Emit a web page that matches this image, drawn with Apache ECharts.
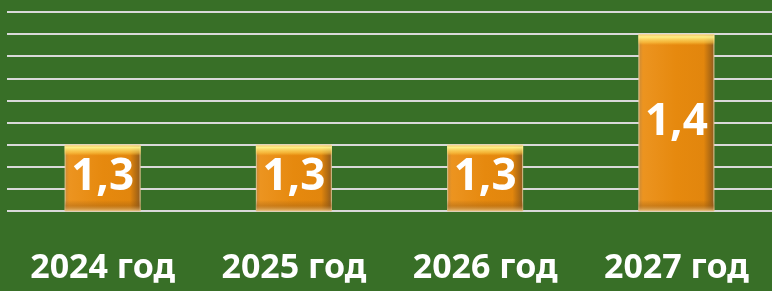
<!DOCTYPE html>
<html>
<head>
<meta charset="utf-8">
<script src="https://cdn.jsdelivr.net/npm/echarts@6/dist/echarts.min.js"></script>
<style>
  html, body { margin: 0; padding: 0; background: #386F27; }
  #main { width: 772px; height: 291px; }
</style>
</head>
<body>
<div id="main"></div>
<script>
// данные
var years = ['2024 год', '2025 год', '2026 год', '2027 год'];
var values = [1.3, 1.3, 1.3, 1.4];

var yMin = 1.24, yMax = 1.42;

var myChart = echarts.init(document.getElementById('main'));

// боковая заливка (слева светлее, справа тёмная грань)
var sideFill = new echarts.graphic.LinearGradient(0, 0, 1, 0, [
  { offset: 0, color: '#C98A3A' },
  { offset: 0.06, color: '#EC9420' },
  { offset: 0.5, color: '#E6890E' },
  { offset: 0.86, color: '#E2860D' },
  { offset: 0.94, color: '#B36C12' },
  { offset: 1, color: '#8C5A22' }
]);

// верхний блик и нижняя грань, высота фаски ~ 11px при любой высоте столбика
function bevel(hPx) {
  var t = 11 / hPx;
  return new echarts.graphic.LinearGradient(0, 0, 0, 1, [
    { offset: 0, color: 'rgba(255,225,150,0.55)' },
    { offset: t * 0.25, color: 'rgba(255,245,140,0.95)' },
    { offset: t * 0.75, color: 'rgba(255,210,80,0.55)' },
    { offset: t, color: 'rgba(255,200,60,0)' },
    { offset: 1 - t, color: 'rgba(140,80,10,0)' },
    { offset: 1 - t * 0.5, color: 'rgba(150,90,20,0.35)' },
    { offset: 1, color: 'rgba(235,200,140,0.8)' }
  ]);
}

var option = {
  backgroundColor: '#386F27',
  animation: false,
  grid: { left: 7, right: 0, top: 12, bottom: 80 },
  xAxis: {
    type: 'category',
    data: years,
    axisLine: { show: false },
    axisTick: { show: false },
    axisLabel: {
      color: '#ffffff',
      fontFamily: 'Noto Sans',
      fontWeight: 'bold',
      fontSize: 34,
      margin: 40
    }
  },
  yAxis: {
    type: 'value',
    min: yMin,
    max: yMax,
    interval: 0.02,
    axisLabel: { show: false },
    axisLine: { show: false },
    axisTick: { show: false },
    splitLine: { lineStyle: { color: '#D9D9D9', width: 2 } }
  },
  series: [
    {
      type: 'bar',
      data: values,
      barWidth: 76,
      itemStyle: { color: sideFill, borderColor: 'rgba(230,200,150,0.6)', borderWidth: 1 },
      z: 2
    },
    {
      type: 'bar',
      data: values,
      barWidth: 76,
      barGap: '-100%',
      itemStyle: { color: 'rgba(0,0,0,0)' },
      label: {
        show: true,
        position: 'inside',
        color: '#ffffff',
        fontFamily: 'Noto Sans',
        fontWeight: 'bold',
        fontSize: 44,
        formatter: function (p) { return p.value.toFixed(1).replace('.', ','); }
      },
      z: 3
    }
  ]
};
myChart.setOption(option);

// фаска по пиксельной высоте каждого столбика
var base = myChart.convertToPixel({ yAxisIndex: 0 }, yMin);
option.series[1].data = values.map(function (v) {
  var h = base - myChart.convertToPixel({ yAxisIndex: 0 }, v);
  return { value: v, itemStyle: { color: bevel(h) } };
});
myChart.setOption(option);
</script>
</body>
</html>
